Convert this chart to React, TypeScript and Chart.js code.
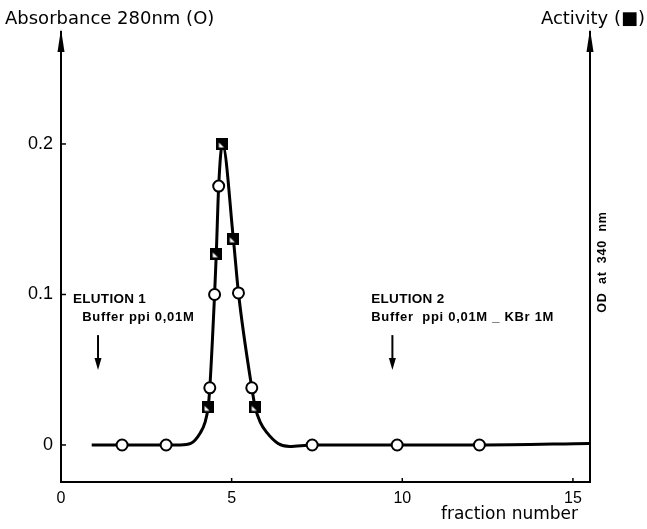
import React, { useEffect, useRef } from 'react';
import { Chart, registerables } from 'chart.js';

Chart.register(...registerables);

// ---- data ----
const circleFraction = [1.79, 3.08, 4.36, 4.5, 4.62, 5.2, 5.59, 7.36, 9.85, 12.26];
const circleAbsorbance = [0, 0, 0.038, 0.1, 0.172, 0.101, 0.038, 0, 0, 0];

const squareFraction = [4.31, 4.55, 4.73, 5.05, 5.69];
const squareActivity = [0.025, 0.127, 0.2, 0.137, 0.025];

const profileFraction = [0.9, 3.5, 3.8, 4.08, 4.22, 4.31, 4.36, 4.5, 4.55, 4.62, 4.73, 5.05, 5.2, 5.59, 5.69, 5.84, 6.04, 6.36, 6.7, 7.36, 9.85, 12.26, 15.5];
const profileValue = [0, 0, 0.001, 0.008, 0.015, 0.025, 0.038, 0.1, 0.127, 0.172, 0.2, 0.137, 0.101, 0.038, 0.025, 0.015, 0.008, 0.001, -0.001, 0, 0, 0, 0.001];

const xTicks = [0, 5, 10, 15];
const yTicks = [0, 0.1, 0.2];

const leftTitle = 'Absorbance 280nm (O)';
const rightTitle = 'Activity (\u25A0)';
const xTitle = 'fraction number';
const rightAxisLabel = 'OD at 340 nm';

const elution1 = ['ELUTION 1', 'Buffer ppi 0,01M'];
const elution2 = ['ELUTION 2', 'Buffer  ppi 0,01M _ KBr 1M'];

const X_MIN = 0;
const X_MAX = 15.5;
const Y_MIN = -0.0246;
const Y_MAX = 0.2744;

function makeSquareMarker() {
  const c = document.createElement('canvas');
  c.width = 12;
  c.height = 12;
  const g = c.getContext('2d')!;
  g.fillStyle = '#000';
  g.fillRect(0, 0, 12, 12);
  g.fillStyle = '#fff';
  g.beginPath();
  g.moveTo(2.5, 4.5);
  g.lineTo(2.5, 9.5);
  g.lineTo(7.5, 9.5);
  g.closePath();
  g.fill();
  return c;
}

const decorPlugin = {
  id: 'decor',
  afterDraw(chart: any) {
    const ctx: CanvasRenderingContext2D = chart.ctx;
    const { left, right, top, bottom } = chart.chartArea;
    const xs = chart.scales.x;
    const ys = chart.scales.y;
    ctx.save();
    ctx.fillStyle = '#000';
    ctx.strokeStyle = '#000';

    // arrows at top of the two vertical axes
    [left, right].forEach((ax: number) => {
      ctx.beginPath();
      ctx.moveTo(ax, top - 3);
      ctx.lineTo(ax - 3.5, top + 20);
      ctx.lineTo(ax + 3.5, top + 20);
      ctx.closePath();
      ctx.fill();
    });

    // inward tick marks
    ctx.lineWidth = 1.5;
    yTicks.forEach((v) => {
      const py = ys.getPixelForValue(v);
      ctx.beginPath();
      ctx.moveTo(left, py);
      ctx.lineTo(left + 5, py);
      ctx.stroke();
    });
    xTicks.slice(1).forEach((v) => {
      const px = xs.getPixelForValue(v);
      ctx.beginPath();
      ctx.moveTo(px, bottom);
      ctx.lineTo(px, bottom - 4);
      ctx.stroke();
    });

    // titles
    ctx.textBaseline = 'alphabetic';
    ctx.font = '18px "DejaVu Sans"';
    ctx.textAlign = 'left';
    ctx.fillText(leftTitle, 5, 24);
    ctx.textAlign = 'right';
    ctx.fillText(rightTitle, 645, 24);

    ctx.font = '17px "DejaVu Sans"';
    ctx.textAlign = 'right';
    ctx.fillText(xTitle, 578, 519);

    // right axis label, rotated
    ctx.save();
    ctx.translate(right + 13, (top + bottom) / 2 + 5);
    ctx.rotate(-Math.PI / 2);
    ctx.textAlign = 'center';
    ctx.textBaseline = 'middle';
    ctx.font = 'bold 12.5px "Liberation Sans"';
    (ctx as any).letterSpacing = '0.8px';
    (ctx as any).wordSpacing = '4px';
    ctx.fillText(rightAxisLabel, 0, 0);
    ctx.restore();

    // elution annotations (anchored in data coordinates)
    const drawBlock = (lines: string[], xHead: number, xBody: number, xArrow: number) => {
      ctx.textAlign = 'left';
      ctx.textBaseline = 'alphabetic';
      ctx.font = 'bold 13.5px "Liberation Sans"';
      (ctx as any).letterSpacing = '0.3px';
      ctx.fillText(lines[0], xs.getPixelForValue(xHead), ys.getPixelForValue(0.0943));
      ctx.font = 'bold 13px "Liberation Sans"';
      (ctx as any).letterSpacing = '0.7px';
      ctx.fillText(lines[1], xs.getPixelForValue(xBody), ys.getPixelForValue(0.0824));
      (ctx as any).letterSpacing = '0px';
      const ax = xs.getPixelForValue(xArrow);
      const ay0 = ys.getPixelForValue(0.073);
      const ay1 = ys.getPixelForValue(0.0498);
      ctx.lineWidth = 2;
      ctx.beginPath();
      ctx.moveTo(ax, ay0);
      ctx.lineTo(ax, ay1 - 8);
      ctx.stroke();
      ctx.beginPath();
      ctx.moveTo(ax, ay1);
      ctx.lineTo(ax - 3.5, ay1 - 12);
      ctx.lineTo(ax + 3.5, ay1 - 12);
      ctx.closePath();
      ctx.fill();
    };
    drawBlock(elution1, 0.35, 0.62, 1.085);
    drawBlock(elution2, 9.09, 9.09, 9.71);

    ctx.restore();
  },
};

export default function App() {
  const ref = useRef<HTMLCanvasElement>(null);

  useEffect(() => {
    const square = makeSquareMarker();
    const chart = new Chart(ref.current!, {
      type: 'scatter',
      data: {
        datasets: [
          {
            label: 'Absorbance 280nm',
            data: circleFraction.map((x, i) => ({ x, y: circleAbsorbance[i] })),
            showLine: false,
            pointStyle: 'circle',
            pointRadius: 5.5,
            pointBorderWidth: 2,
            pointBackgroundColor: '#fff',
            pointBorderColor: '#000',
            order: 1,
          },
          {
            label: 'Activity',
            data: squareFraction.map((x, i) => ({ x, y: squareActivity[i] })),
            yAxisID: 'y2',
            showLine: false,
            pointStyle: square as any,
            pointRadius: 6,
            order: 0,
          },
          {
            label: 'profile',
            data: profileFraction.map((x, i) => ({ x, y: profileValue[i] })),
            showLine: true,
            pointRadius: 0,
            borderColor: '#000',
            borderWidth: 3,
            cubicInterpolationMode: 'monotone',
            order: 3,
          } as any,
        ],
      },
      options: {
        animation: false,
        responsive: false,
        devicePixelRatio: 1,
        layout: { padding: { top: 32, left: 0, right: 0, bottom: 0 } },
        plugins: {
          legend: { display: false },
          tooltip: { enabled: false },
          title: { display: false },
        },
        scales: {
          x: {
            type: 'linear',
            position: 'bottom',
            min: X_MIN,
            max: X_MAX,
            afterBuildTicks: (s: any) => {
              s.ticks = xTicks.map((v) => ({ value: v }));
            },
            afterFit: (s: any) => {
              s.height = 47;
            },
            ticks: {
              color: '#000',
              font: { family: '"Liberation Sans"', size: 16 },
              padding: 7,
              maxRotation: 0,
              autoSkip: false,
              callback: (v: any) => String(v),
            },
            grid: { display: true, drawOnChartArea: false, drawTicks: false },
            border: { display: true, color: '#000', width: 2 },
          },
          y: {
            type: 'linear',
            position: 'left',
            min: Y_MIN,
            max: Y_MAX,
            afterBuildTicks: (s: any) => {
              s.ticks = yTicks.map((v) => ({ value: v }));
            },
            afterFit: (s: any) => {
              s.width = 61;
            },
            ticks: {
              color: '#000',
              font: { family: '"Liberation Sans"', size: 18 },
              padding: 8,
              autoSkip: false,
              callback: (v: any) => (v === 0 ? '0' : Number(v).toFixed(1)),
            },
            grid: { display: true, drawOnChartArea: false, drawTicks: false },
            border: { display: true, color: '#000', width: 2 },
          },
          y2: {
            type: 'linear',
            position: 'right',
            min: Y_MIN,
            max: Y_MAX,
            afterFit: (s: any) => {
              s.width = 57;
            },
            ticks: { display: false },
            grid: { display: true, drawOnChartArea: false, drawTicks: false },
            border: { display: true, color: '#000', width: 2 },
          },
        },
      },
      plugins: [decorPlugin],
    } as any);
    return () => chart.destroy();
  }, []);

  return (
    <div style={{ position: 'absolute', left: 0, top: 0, width: 647, height: 529, background: '#fff' }}>
      <canvas ref={ref} width={647} height={529} style={{ display: 'block', width: 647, height: 529 }} />
    </div>
  );
}
